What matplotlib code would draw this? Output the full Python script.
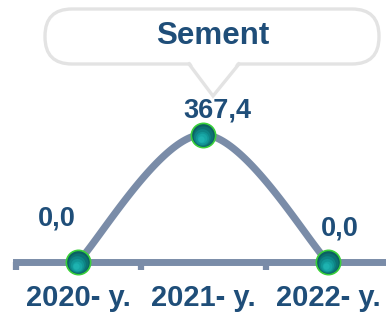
import numpy as np
import matplotlib.pyplot as plt
from matplotlib.patches import FancyBboxPatch, Polygon
from matplotlib.lines import Line2D
from matplotlib.transforms import offset_copy

# --- data ---
categories = ["2020- y.", "2021- y.", "2022- y."]
values = [0.0, 367.4, 0.0]
value_labels = ["0,0", "367,4", "0,0"]
title = "Sement"

line_color = "#7A8CA8"
text_color = "#1F4E79"


def smooth(xs, ys, n=60):
    # Excel-style smoothed line: cubic bezier with catmull-rom control points
    pts = np.column_stack([xs, ys]).astype(float)
    out = []
    for i in range(len(pts) - 1):
        p0 = pts[i - 1] if i > 0 else pts[i]
        p1, p2 = pts[i], pts[i + 1]
        p3 = pts[i + 2] if i + 2 < len(pts) else pts[i + 1]
        c1 = p1 + (p2 - p0) / 6
        c2 = p2 - (p3 - p1) / 6
        t = np.linspace(0, 1, n)[:, None]
        seg = (1 - t) ** 3 * p1 + 3 * (1 - t) ** 2 * t * c1 + 3 * (1 - t) * t ** 2 * c2 + t ** 3 * p2
        out.append(seg if i == 0 else seg[1:])
    out = np.vstack(out)
    return out[:, 0], out[:, 1]


W, H = 386, 312
fig = plt.figure(figsize=(W / 100, H / 100), dpi=100)
fig.patch.set_facecolor("white")

ax = fig.add_axes([15.5 / W, 50 / H, 375 / W, 156 / H])
ax.set_facecolor("none")
x = np.arange(len(categories))
ax.set_xlim(-0.5, len(categories) - 0.5)
ax.set_ylim(0, 450)

sx, sy = smooth(x, values)
ax.plot(sx, sy, color=line_color, lw=5.2, solid_capstyle="round", zorder=3, clip_on=False)

# sphere-like markers: dark teal top, lighter toward the lower part
ax.plot(x, values, "o", ms=17.5, mfc="#0B5F62", mec="#3BD03B", mew=1.2, zorder=5, clip_on=False)
layers = [((-0.3, -0.8), 14.5, "#0C7173"),
          ((-0.6, -1.5), 12, "#0E8485"),
          ((-0.8, -2.1), 9.5, "#129696"),
          ((-1.0, -2.6), 7, "#17A6A5"),
          ((-1.1, -3.0), 4.5, "#1EB2B0")]
for (dx, dy), ms, c in layers:
    tr = offset_copy(ax.transData, fig=fig, x=dx, y=dy, units="points")
    ax.plot(x, values, "o", ms=ms, mfc=c, mec="none", transform=tr, zorder=6, clip_on=False)

# value labels
offsets = [(-21, 44), (14, 24), (12, 34)]
for xi, v, lab, (ox, oy) in zip(x, values, value_labels, offsets):
    ax.annotate(lab, (xi, v), xytext=(ox * 0.72, oy * 0.72), textcoords="offset points",
                ha="center", va="center", fontsize=19.5, fontweight="bold",
                family="Liberation Sans", color=text_color, zorder=7)

for s in ["top", "left", "right"]:
    ax.spines[s].set_visible(False)
ax.spines["bottom"].set_color(line_color)
ax.spines["bottom"].set_linewidth(5)
ax.spines["bottom"].set_zorder(2)
ax.set_yticks([])
ax.set_xticks(x)
ax.set_xticklabels(categories, fontsize=21, fontweight="bold", family="Liberation Sans", color=text_color)
ax.tick_params(axis="x", which="major", length=0, pad=15.5)
ax.set_xticks(np.arange(-0.5, len(categories)), minor=True)
ax.tick_params(axis="x", which="minor", length=5.5, width=4.5, color=line_color, direction="out")

# callout with title
ov = fig.add_axes([0, 0, 1, 1])
ov.set_xlim(0, W)
ov.set_ylim(H, 0)
ov.axis("off")
ov.set_zorder(10)
box = FancyBboxPatch((45, 9), 334, 55, boxstyle="round,pad=0,rounding_size=27",
                     fc="white", ec="#E3E3E3", lw=2.4)
ov.add_patch(box)
ov.add_patch(Polygon([(189, 60), (213, 96), (239, 60)], closed=True, fc="white", ec="none", zorder=3))
ov.add_line(Line2D([189, 213, 239], [64, 96, 64], color="#E3E3E3", lw=2.4, zorder=4,
                   solid_joinstyle="miter"))
ov.text(213, 36, title, ha="center", va="center", fontsize=22.5, fontweight="bold",
        family="Liberation Sans", color=text_color, zorder=5)

fig.savefig("out.png", dpi=100)
